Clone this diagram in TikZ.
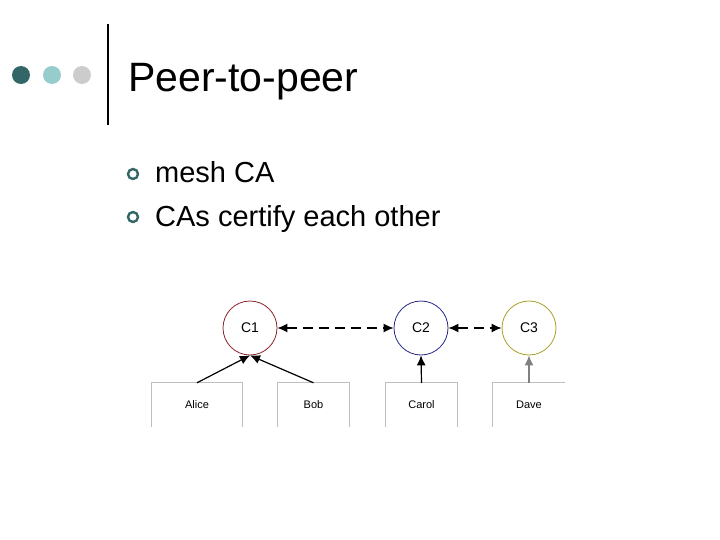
\documentclass[tikz,border=0pt]{standalone}
\usepackage{fontspec}
\setmainfont{Liberation Sans}
\usetikzlibrary{arrows.meta}

\definecolor{darkteal}{RGB}{51,102,102}
\definecolor{lightteal}{RGB}{150,204,204}
\definecolor{lightgrey}{RGB}{204,204,204}
\definecolor{boxgrey}{RGB}{190,190,190}
\definecolor{caone}{RGB}{140,35,45}
\definecolor{catwo}{RGB}{40,40,140}
\definecolor{cathree}{RGB}{170,160,40}

\begin{document}
\begin{tikzpicture}[x=1pt,y=-1pt,
    dot/.style={circle, fill=#1, minimum size=18pt, inner sep=0pt},
    ring/.style={circle, draw=darkteal, line width=2.4pt, minimum size=10pt, inner sep=0pt},
    ca/.style={circle, draw=#1, line width=0.8pt, minimum size=54pt, inner sep=0pt, font=\fontsize{14}{16}\selectfont},
    user/.style={rectangle, minimum height=44pt, inner sep=0pt, font=\fontsize{11}{13}\selectfont},
    boxline/.style={draw=boxgrey, line width=0.8pt},
    cert/.style={-{Latex[length=10pt,width=9pt]}, line width=1.2pt},
    mesh/.style={{Latex[length=10pt,width=9pt]}-{Latex[length=10pt,width=9pt]}, line width=1.2pt, dash pattern=on 10pt off 6pt}]
    \useasboundingbox (0,0) rectangle (720,540);

    % slide header
    \node(D1) [dot=darkteal] at (21,75){};
    \node(D2) [dot=lightteal] at (52,75){};
    \node(D3) [dot=lightgrey] at (82,75){};
    \coordinate(BarTop) at (108,24);
    \coordinate(BarBot) at (108,125);
    \draw[line width=2.5pt] (BarTop) -- (BarBot);
    \node(Title) [anchor=base west, inner sep=0pt, font=\fontsize{41}{48}\selectfont] at (128,92){Peer-to-peer};

    % bullets
    \node(R1) [ring] at (133,174){};
    \node(T1) [anchor=base west, inner sep=0pt, font=\fontsize{29}{34}\selectfont] at (155,183){mesh CA};
    \node(R2) [ring] at (133,217){};
    \node(T2) [anchor=base west, inner sep=0pt, font=\fontsize{29}{34}\selectfont] at (155,226){CAs certify each other};

    % CAs
    \node(C1) [ca=caone] at (250,328){C1};
    \node(C2) [ca=catwo] at (421,328){C2};
    \node(C3) [ca=cathree] at (529,328){C3};

    % users
    \node(Alice) [user, minimum width=90pt] at (197,405){Alice};
    \node(Bob) [user, minimum width=72pt] at (313.5,405){Bob};
    \node(Carol) [user, minimum width=72pt] at (421.5,405){Carol};
    \node(Dave) [user, minimum width=72pt] at (529,405){Dave};
    \draw[boxline] (Alice.south west) |- (Alice.north east) -- (Alice.south east);
    \draw[boxline] (Bob.south west) |- (Bob.north east) -- (Bob.south east);
    \draw[boxline] (Carol.south west) |- (Carol.north east) -- (Carol.south east);
    \draw[boxline] (Dave.south west) |- (Dave.north east);

    \draw[cert] (Alice.north) -- (C1.south);
    \draw[cert] (Bob.north) -- (C1.south);
    \draw[cert] (Carol.north) -- (C2.south);
    \draw[cert, draw=gray, fill=gray] (Dave.north) -- (C3.south);
    \draw[mesh] (C1) -- (C2);
    \draw[mesh] (C2) -- (C3);
  \end{tikzpicture}
\end{document}
